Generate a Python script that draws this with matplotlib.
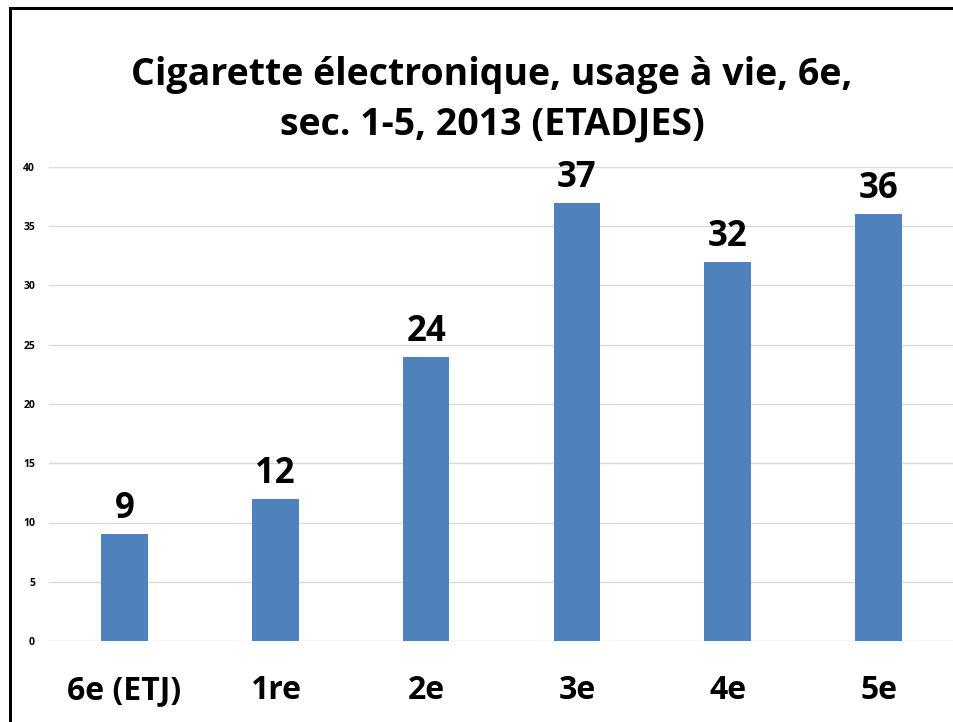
import matplotlib
matplotlib.use("Agg")
import matplotlib.pyplot as plt
from matplotlib.patches import Rectangle

categories = ["6e (ETJ)", "1re", "2e", "3e", "4e", "5e"]
values = [9, 12, 24, 37, 32, 36]
yticks = [0, 5, 10, 15, 20, 25, 30, 35, 40]
title = "Cigarette électronique, usage à vie, 6e,\nsec. 1-5, 2013 (ETADJES)"

plt.rcParams['font.family'] = ['Open Sans', 'DejaVu Sans']

W, H = 954, 722
fig = plt.figure(figsize=(W/100, H/100), dpi=100)
ax = fig.add_axes([49/W, 1-641/H, 905/W, (641-167)/H])

x = list(range(len(categories)))
bars = ax.bar(x, values, width=0.31, color="#4f81bd", zorder=3)
ax.set_xlim(-0.5, len(categories)-0.5)
ax.set_ylim(0, 40)
ax.set_yticks(yticks)
ax.set_yticklabels([str(t) for t in yticks], fontsize=7.5, fontweight='bold')
ax.set_xticks(x)
ax.set_xticklabels(categories, fontsize=23, fontweight='bold')
ax.tick_params(axis='y', length=0, pad=10)
ax.tick_params(axis='x', length=0, pad=24)
ax.grid(axis='y', color='#d9d9d9', linewidth=1, zorder=0)
for s in ax.spines.values():
    s.set_visible(False)

for xi, v in zip(x, values):
    ax.annotate(str(v), (xi, v), xytext=(0, 5), textcoords='offset points',
                ha='center', va='bottom', fontsize=25, fontweight='bold')

fig.text(492/W, 1-100/H, title, ha='center', va='center', fontsize=27,
         fontweight='bold', linespacing=1.38)

# frame: left and top edges drawn as thin filled bars inside the canvas
fig.add_artist(Rectangle((9.5/W, 0), 2.5/W, 1-7/H, facecolor='black',
                         edgecolor='none', linewidth=0,
                         transform=fig.transFigure))
fig.add_artist(Rectangle((9.5/W, 1-9.5/H), 1-9.5/W, 2.5/H, facecolor='black',
                         edgecolor='none', linewidth=0,
                         transform=fig.transFigure))

fig.savefig("out.png", dpi=100)
